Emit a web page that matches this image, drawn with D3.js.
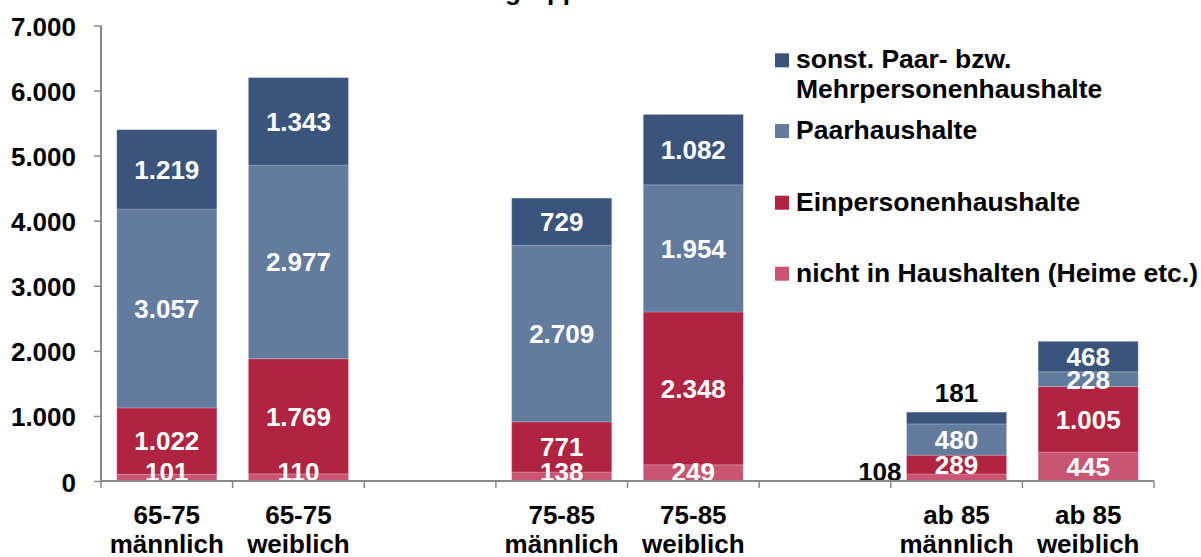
<!DOCTYPE html>
<html>
<head>
<meta charset="utf-8">
<script src="https://cdn.jsdelivr.net/npm/d3@7"></script>
<style>
  html, body { margin: 0; padding: 0; background: #ffffff; }
  svg { display: block; }
  text { font-family: "Liberation Sans", Arial, sans-serif; font-weight: bold; }
</style>
</head>
<body>
<svg id="chart" width="1201" height="557"></svg>
<script>
// ---- data ----
const titleText = "Haushaltsformen nach Altersgruppen";
const categories = ["65-75 männlich", "65-75 weiblich", "75-85 männlich", "75-85 weiblich", "ab 85 männlich", "ab 85 weiblich"];
const seriesNames = ["nicht in Haushalten (Heime etc.)", "Einpersonenhaushalte", "Paarhaushalte", "sonst. Paar- bzw. Mehrpersonenhaushalte"];
const nichtInHaushalten = [101, 110, 138, 249, 108, 445];
const einpersonenhaushalte = [1022, 1769, 771, 2348, 289, 1005];
const paarhaushalte = [3057, 2977, 2709, 1954, 480, 228];
const sonstMehrpersonen = [1219, 1343, 729, 1082, 181, 468];
const yTicks = [0, 1000, 2000, 3000, 4000, 5000, 6000, 7000];
const legendLines = [["sonst. Paar- bzw.", "Mehrpersonenhaushalte"], ["Paarhaushalte"], ["Einpersonenhaushalte"], ["nicht in Haushalten (Heime etc.)"]];

// ---- style ----
const colors = ["#CA5572", "#B02441", "#637C9E", "#3A547C"];
const axisColor = "#8a8a8a";
const fontSize = 26;

const svg = d3.select("#chart");
const values = [nichtInHaushalten, einpersonenhaushalte, paarhaushalte, sonstMehrpersonen];

// slot domain: categories with gaps after every pair
const slots = [];
categories.forEach((c, i) => {
  slots.push(c);
  if (i % 2 === 1 && i < categories.length - 1) slots.push("gap" + i);
});

const x = d3.scaleBand().domain(slots).range([101, 1154]).paddingInner(0).paddingOuter(0);
const y = d3.scaleLinear().domain([0, 7000]).range([481, 25.5]);
const barFrac = 0.76;

const de = d3.formatLocale({decimal: ",", thousands: ".", grouping: [3], currency: ["", "€"]});
const fmt = de.format(",d");

// title (mostly out of frame)
svg.append("text")
  .attr("x", 609).attr("y", -0.5)
  .attr("text-anchor", "end")
  .attr("font-size", fontSize)
  .attr("fill", "#000")
  .text(titleText);

// stacked data
const rows = categories.map((c, i) => {
  const r = {cat: c};
  seriesNames.forEach((s, k) => r[s] = values[k][i]);
  return r;
});
const stack = d3.stack().keys(seriesNames)(rows);

const g = svg.append("g");
stack.forEach((layer, k) => {
  g.selectAll(null).data(layer).enter().append("rect")
    .attr("x", d => x(d.data.cat) + x.bandwidth() * (1 - barFrac) / 2)
    .attr("width", x.bandwidth() * barFrac)
    .attr("y", d => y(d[1]))
    .attr("height", d => y(d[0]) - y(d[1]))
    .attr("fill", colors[k])
    .attr("stroke", "rgba(255,255,255,0.18)")
    .attr("stroke-width", 1);
});

// value labels
const outside = {"ab 85 männlich|0": "left", "ab 85 männlich|3": "top"};
stack.forEach((layer, k) => {
  layer.forEach(d => {
    const cat = d.data.cat;
    const v = d[1] - d[0];
    const cx = x(cat) + x.bandwidth() / 2;
    const mode = outside[cat + "|" + k];
    let tx = cx, ty, anchor = "middle", fill = "#ffffff";
    if (mode === "left") {
      tx = x(cat) + x.bandwidth() * (1 - barFrac) / 2 - 5;
      anchor = "end"; fill = "#000";
      ty = Math.min((y(d[0]) + y(d[1])) / 2, 472) + 9.3;
    } else if (mode === "top") {
      fill = "#000";
      ty = y(d[1]) - 10;
    } else {
      ty = Math.min((y(d[0]) + y(d[1])) / 2, 472) + 9.3;
    }
    svg.append("text")
      .attr("x", tx).attr("y", ty)
      .attr("text-anchor", anchor)
      .attr("font-size", fontSize)
      .attr("fill", fill)
      .text(fmt(v));
  });
});

// y axis
const yAxis = d3.axisLeft(y).tickValues(yTicks).tickSize(7).tickPadding(18).tickFormat(fmt);
const ya = svg.append("g").attr("transform", "translate(101,0)").call(yAxis);
ya.select(".domain").attr("stroke", axisColor).attr("stroke-width", 2).attr("d", `M0,${y(7000)}V${y(0)}`);
ya.selectAll(".tick line").attr("stroke", axisColor).attr("stroke-width", 1.5);
ya.selectAll(".tick text")
  .attr("font-size", fontSize).attr("fill", "#000")
  .attr("font-family", "Liberation Sans, Arial, sans-serif").attr("font-weight", "bold")
  .attr("dy", null).attr("y", 10)
  .attr("x", -25);

// x axis with ticks at every slot boundary
const xa = svg.append("g");
xa.append("line").attr("x1", 101).attr("x2", 1154).attr("y1", y(0)).attr("y2", y(0))
  .attr("stroke", axisColor).attr("stroke-width", 2);
const bounds = slots.map(s => x(s)).concat([x(slots[slots.length - 1]) + x.step()]);
xa.selectAll(null).data(bounds).enter().append("line")
  .attr("x1", d => d).attr("x2", d => d)
  .attr("y1", y(0)).attr("y2", y(0) + 7)
  .attr("stroke", axisColor).attr("stroke-width", 1.5);

categories.forEach(c => {
  const idx = c.lastIndexOf(" ");
  const l1 = c.slice(0, idx), l2 = c.slice(idx + 1);
  const t = xa.append("text")
    .attr("x", x(c) + x.bandwidth() / 2)
    .attr("y", 524)
    .attr("text-anchor", "middle")
    .attr("font-size", fontSize)
    .attr("fill", "#000");
  t.append("tspan").attr("x", x(c) + x.bandwidth() / 2).attr("y", 524).text(l1);
  t.append("tspan").attr("x", x(c) + x.bandwidth() / 2).attr("y", 553).text(l2);
});

// legend
const legendBaselines = [[68.3, 98.3], [139], [210.7], [281.7]];
const legendColors = [colors[3], colors[2], colors[1], colors[0]];
legendLines.forEach((lines, i) => {
  const lg = svg.append("g");
  lg.append("rect")
    .attr("x", 775).attr("y", legendBaselines[i][0] - 15)
    .attr("width", 14).attr("height", 14)
    .attr("fill", legendColors[i]);
  lines.forEach((ln, j) => {
    lg.append("text")
      .attr("x", 796).attr("y", legendBaselines[i][j])
      .attr("font-size", 26.5)
      .attr("fill", "#000")
      .text(ln);
  });
});
</script>
</body>
</html>
